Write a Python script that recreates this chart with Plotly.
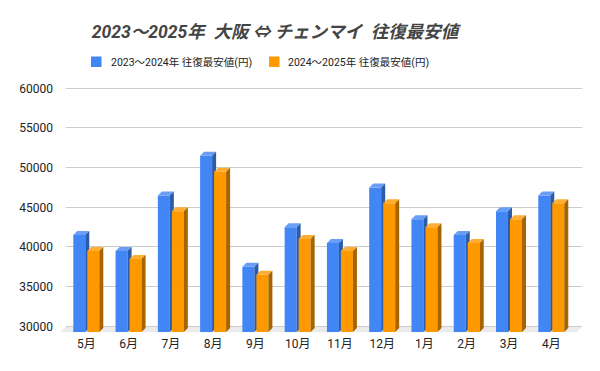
import plotly.graph_objects as go

# ---------------- data ----------------
months = ["5月", "6月", "7月", "8月", "9月", "10月", "11月", "12月", "1月", "2月", "3月", "4月"]
series_names = ["2023～2024年 往復最安値(円)", "2024～2025年 往復最安値(円)"]
prices_2023_2024 = [42000, 40000, 47000, 52000, 38000, 43000, 41000, 48000, 44000, 42000, 45000, 47000]
prices_2024_2025 = [40000, 39000, 45000, 50000, 37000, 41500, 40000, 46000, 43000, 41000, 44000, 46000]
y_ticks = [30000, 35000, 40000, 45000, 50000, 55000, 60000]
title_text = "2023～2025年  大阪 ⇔ チェンマイ  往復最安値"

# ---------------- style / geometry ----------------
PAGE = 8                      # default page margin of the html body
W, H = 600 - PAGE, 371 - PAGE
ML, MR, MT, MB = 66 - PAGE, 18, 80 - PAGE, 39
plot_w = W - ML - MR          # 516
plot_h = H - MT - MB          # 252
px_per_cat = 42.27
px_per_unit = 7.933 / 1000.0
y_min = 30000 - 5.7 / px_per_unit
y_max = y_min + plot_h / px_per_unit
x_min = -20.3 / px_per_cat
x_max = x_min + plot_w / px_per_cat

bar_w = 12 / px_per_cat
dx = 4 / px_per_cat
dy = 4 / px_per_unit
offsets = [-13 / px_per_cat, 1 / px_per_cat]

colors = [
    dict(front="#4285F4", top="#6A9EF6", side="#2C5BAA"),
    dict(front="#FF9900", top="#FFAD33", side="#A86400"),
]

fig = go.Figure()

for s, (vals, name, col, off) in enumerate(zip([prices_2023_2024, prices_2024_2025], series_names, colors, offsets)):
    fx, fy, tx, ty, sx, sy = [], [], [], [], [], []
    for i, v in enumerate(vals):
        xl = i + off
        xr = xl + bar_w
        vf = v - dy
        fx += [xl, xr, xr, xl, xl, None]
        fy += [y_min, y_min, vf, vf, y_min, None]
        tx += [xl, xr, xr + dx, xl + dx, xl, None]
        ty += [vf, vf, v, v, vf, None]
        sx += [xr, xr + dx, xr + dx, xr, xr, None]
        sy += [y_min, y_min + dy, v, vf, y_min, None]
    for xs, ys, c in [(fx, fy, col["front"]), (tx, ty, col["top"]), (sx, sy, col["side"])]:
        fig.add_trace(go.Scatter(x=xs, y=ys, mode="lines", fill="toself", fillcolor=c,
                                 line=dict(width=0, color=c), hoverinfo="skip", showlegend=False,
                                 name=name))

# helpers: reference-image pixel -> paper coordinates
def px(xp):
    return (xp - PAGE - ML) / plot_w

def py(yp):
    return (H - MB - (yp - PAGE)) / plot_h

# floor
floor_path = "M {} {} L {} {} L {} {} L {} {} Z".format(
    px(66), py(326.3), px(582), py(326.3), px(577), py(332.3), px(60), py(332.3))
fig.add_shape(type="path", path=floor_path, xref="paper", yref="paper",
              fillcolor="#EBEBEB", line=dict(width=0), layer="below")

font_family = "Roboto, 'Noto Sans CJK JP', sans-serif"

# custom legend (swatch + label)
legend_items = [(91, 109), (269, 286)]
for (sq_x, tx_x), name, col in zip(legend_items, series_names, colors):
    fig.add_shape(type="rect", xref="paper", yref="paper",
                  x0=px(sq_x), x1=px(sq_x + 10.5), y0=py(67), y1=py(56.5),
                  fillcolor=col["front"], line=dict(width=0))
    fig.add_annotation(text=name, xref="paper", yref="paper", x=px(tx_x), y=py(62),
                       xanchor="left", yanchor="middle", showarrow=False,
                       font=dict(family=font_family, size=10.5, color="#222222"))

fig.update_layout(
    width=W, height=H,
    margin=dict(l=ML, r=MR, t=MT, b=MB, autoexpand=False),
    paper_bgcolor="white", plot_bgcolor="rgba(0,0,0,0)",
    font=dict(family=font_family, size=11, color="#222222"),
    title=dict(text=title_text, x=(275 - PAGE) / W, xanchor="center", xref="container",
               y=1 - (32 - PAGE) / H, yanchor="middle", yref="container",
               font=dict(family=font_family, size=17.5, color="#444444", weight="bold", style="italic")),
    showlegend=False,
)
fig.update_xaxes(range=[x_min, x_max], tickmode="array", tickvals=list(range(len(months))),
                 ticktext=months, showgrid=False, zeroline=False, showline=False, ticks="",
                 tickfont=dict(size=12, color="#222222"), ticklabelstandoff=3, fixedrange=True,
                 automargin=False)
fig.update_yaxes(range=[y_min, y_max], tickmode="array", tickvals=y_ticks,
                 ticktext=[str(t) for t in y_ticks], showgrid=True, gridcolor="#CCCCCC", gridwidth=1,
                 zeroline=False, showline=False, ticks="",
                 tickfont=dict(size=12, color="#222222"), ticklabelstandoff=12, fixedrange=True,
                 automargin=False)

fig.write_html("out.html")
